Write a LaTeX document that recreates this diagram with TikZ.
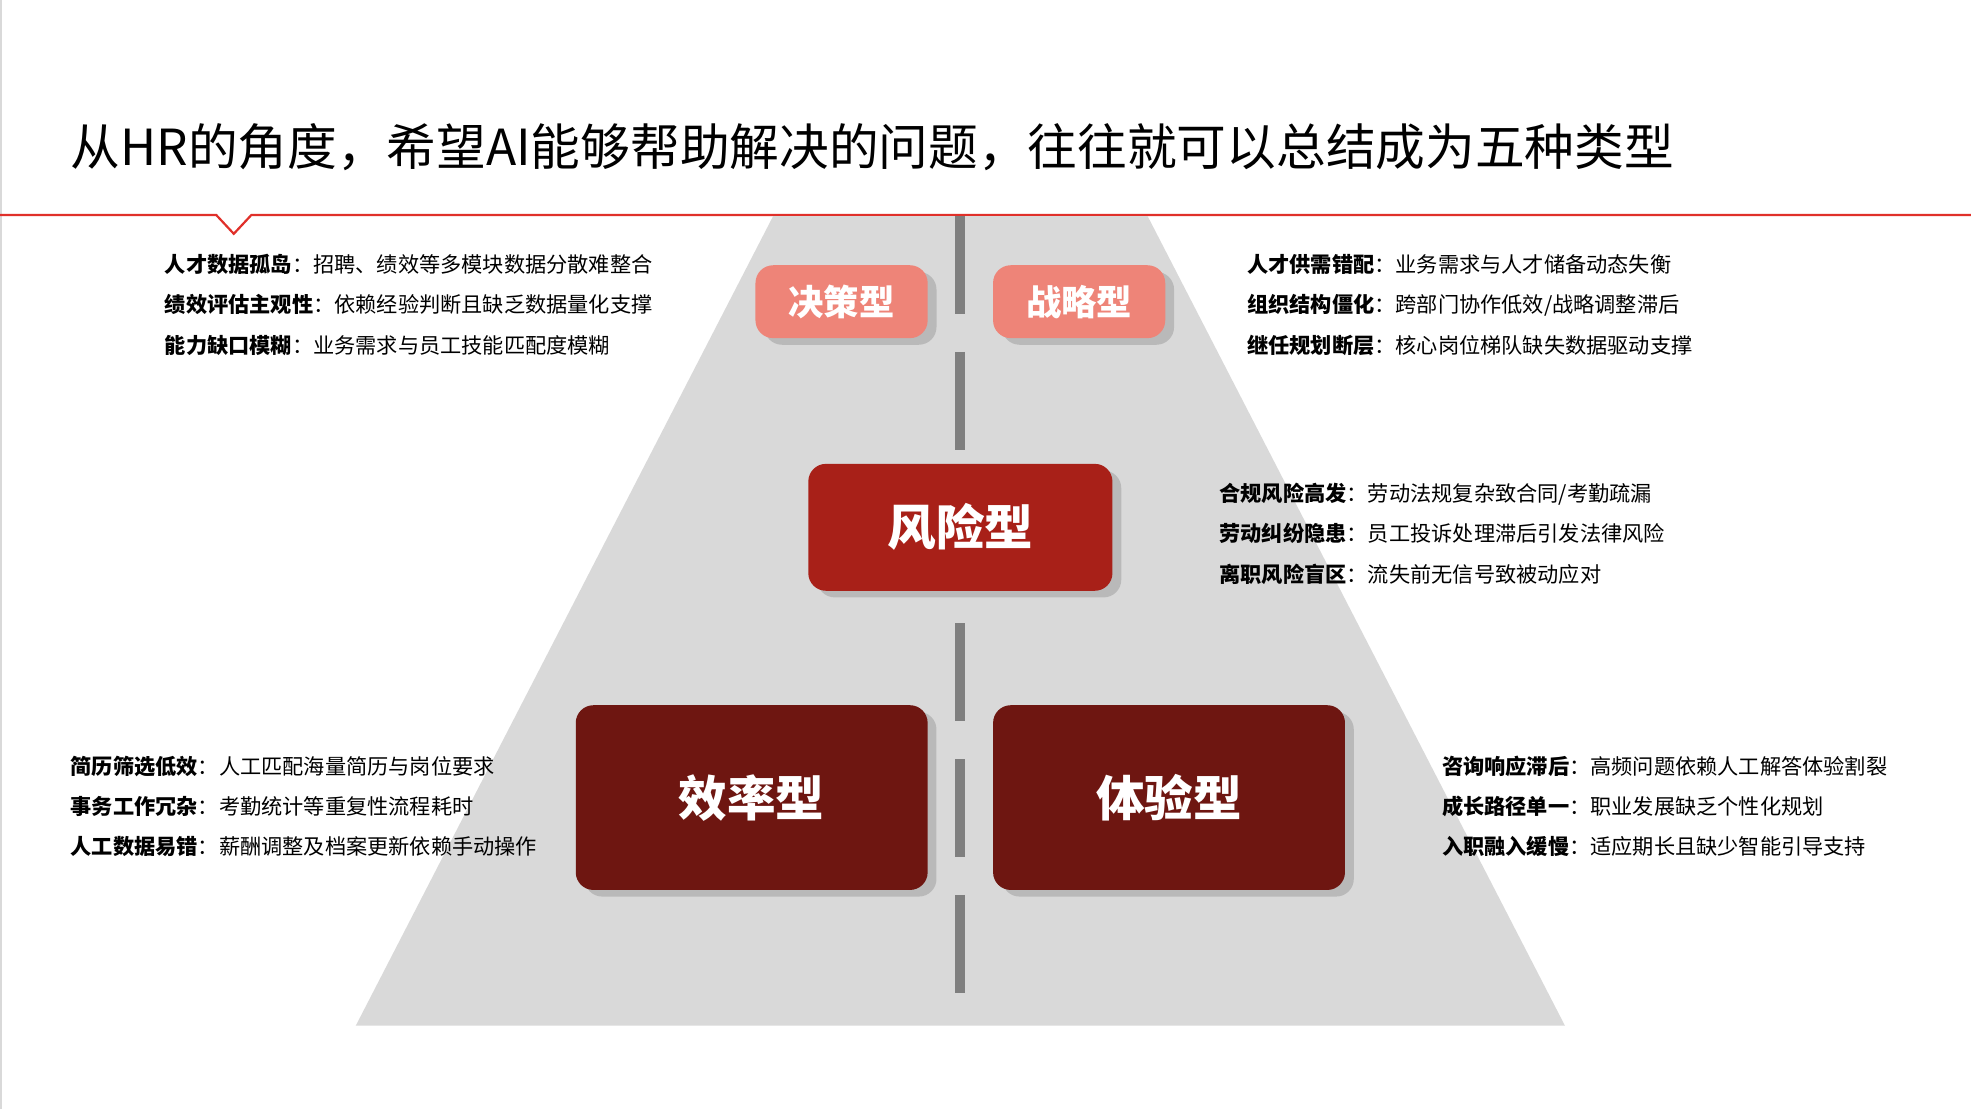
\documentclass[tikz,border=0pt]{standalone}
\usepackage{fontspec}
\setmainfont{Noto Sans CJK SC}
\usetikzlibrary{shadows}
\definecolor{hrred}{HTML}{E0302A}
\definecolor{road}{HTML}{D9D9D9}
\definecolor{lane}{HTML}{7F7F7F}
\definecolor{pinkbox}{HTML}{EE8478}
\definecolor{redbox}{HTML}{A82018}
\definecolor{darkbox}{HTML}{6E1611}
\newcommand{\pitem}[2]{\textbf{#1}：#2}
\begin{document}
\begin{tikzpicture}[x=0.02cm,y=-0.02cm]
  \useasboundingbox (0,0) rectangle (1568,882);
  \tikzset{
    typebox/.style={rounded corners=8pt, text=white, font=\bfseries,
      drop shadow={shadow xshift=4pt, shadow yshift=-3pt, opacity=.35}},
    smallbox/.style={typebox, fill=pinkbox, minimum width=2.74cm, minimum height=1.16cm,
      font=\fontsize{16}{18}\selectfont\bfseries},
    bigbox/.style={typebox, minimum width=5.6cm, minimum height=2.94cm,
      font=\fontsize{22}{26}\selectfont\bfseries},
    % text styles
    points/.style={anchor=north west, align=left, font=\fontsize{9.6}{18.3}\selectfont}
  }

  % frame
  \draw[black!15, line width=1pt] (1,0) -- (1,882);
  \node[anchor=west, font=\fontsize{22.5}{26}\selectfont] (title) at (50,117)
    {从HR的角度，希望AI能够帮助解决的问题，往往就可以总结成为五种类型};
  \draw[hrred, line width=1pt] (0,171) -- (172,171) -- (186,186) -- (200,171) -- (1568,171);

  % road
  \fill[road] (615,172) -- (913,172) -- (1245,816) -- (283,816) -- cycle;
  \coordinate (lanetop) at (764,172);
  \coordinate (lanebot) at (764,790);
  \draw[lane, line width=4.5pt, dash pattern=on 1.56cm off 0.6cm] (lanetop) -- (lanebot);

  % boxes
  \node[smallbox] (decision) at (669.5,240) {决策型};
  \node[smallbox] (strategy) at (858.5,240) {战略型};
  \node[bigbox, fill=redbox, minimum width=4.84cm, minimum height=2.02cm] (risk) at (764,419.5) {风险型};
  \node[bigbox, fill=darkbox] (efficiency) at (598,634.5) {效率型};
  \node[bigbox, fill=darkbox] (experience) at (930,634.5) {体验型};

  % descriptions
  \node[points] (p1) at (125,196) {\pitem{人才数据孤岛}{招聘、绩效等多模块数据分散难整合}\\
    \pitem{绩效评估主观性}{依赖经验判断且缺乏数据量化支撑}\\
    \pitem{能力缺口模糊}{业务需求与员工技能匹配度模糊}};
  \node[points] (p2) at (986,196) {\pitem{人才供需错配}{业务需求与人才储备动态失衡}\\
    \pitem{组织结构僵化}{跨部门协作低效/战略调整滞后}\\
    \pitem{继任规划断层}{核心岗位梯队缺失数据驱动支撑}};
  \node[points] (p3) at (964,378) {\pitem{合规风险高发}{劳动法规复杂致合同/考勤疏漏}\\
    \pitem{劳动纠纷隐患}{员工投诉处理滞后引发法律风险}\\
    \pitem{离职风险盲区}{流失前无信号致被动应对}};
  \node[points] (p4) at (50,595) {\pitem{简历筛选低效}{人工匹配海量简历与岗位要求}\\
    \pitem{事务工作冗杂}{考勤统计等重复性流程耗时}\\
    \pitem{人工数据易错}{薪酬调整及档案更新依赖手动操作}};
  \node[points] (p5) at (1141,595) {\pitem{咨询响应滞后}{高频问题依赖人工解答体验割裂}\\
    \pitem{成长路径单一}{职业发展缺乏个性化规划}\\
    \pitem{入职融入缓慢}{适应期长且缺少智能引导支持}};
\end{tikzpicture}
\end{document}
